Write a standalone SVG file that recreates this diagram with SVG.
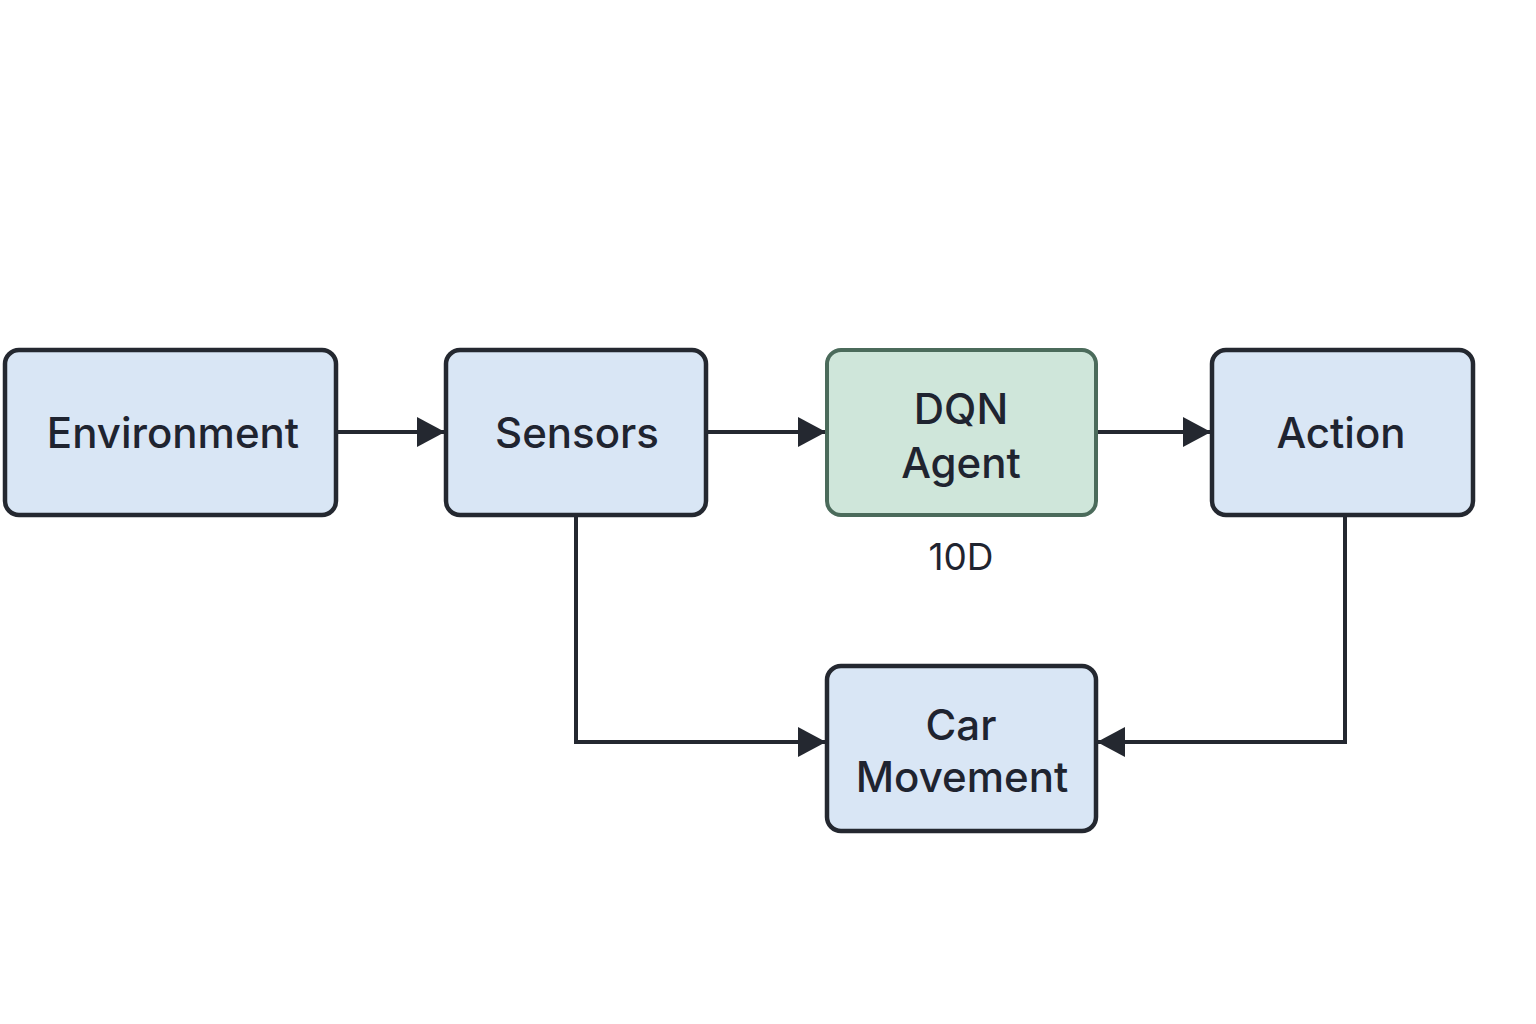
<svg xmlns="http://www.w3.org/2000/svg" width="1536" height="1024" viewBox="0 0 1536 1024">
<defs>
<marker id="arr" markerWidth="28" markerHeight="30" refX="28" refY="15" orient="auto" markerUnits="userSpaceOnUse">
<path d="M0,0 L28,15 L0,30 Z" fill="#242830"/>
</marker>
<style>
.box{fill:#d9e6f5;stroke:#242830;stroke-width:4.5}
.green{fill:#cfe6da;stroke:#4b6b5b;stroke-width:4}
.lbl{font-family:Inter,"Noto Sans","Liberation Sans",sans-serif;font-size:42px;font-weight:500;fill:#1f2430;text-anchor:middle}
.sub{font-family:Inter,"Noto Sans","Liberation Sans",sans-serif;font-size:37px;font-weight:400;fill:#1f2430;text-anchor:middle}
.con{fill:none;stroke:#242830;stroke-width:4;marker-end:url(#arr)}
</style>
</defs>
<rect width="1536" height="1024" fill="#ffffff"/>
<g id="connectors">
<path class="con" d="M336,432 H445"/>
<path class="con" d="M706,432 H826"/>
<path class="con" d="M1096,432 H1211"/>
<path class="con" d="M576,515 V742 H826"/>
<path class="con" d="M1345,515 V742 H1097"/>
</g>
<g id="environment">
<rect class="box" x="5" y="350" width="331" height="165" rx="14"/>
<text class="lbl" x="173" y="448">Environment</text>
</g>
<g id="sensors">
<rect class="box" x="446" y="350" width="260" height="165" rx="14"/>
<text class="lbl" x="577" y="448">Sensors</text>
</g>
<g id="dqn-agent">
<rect class="green" x="827" y="350" width="269" height="165" rx="14"/>
<text class="lbl" x="961" y="424">DQN</text>
<text class="lbl" x="961" y="478">Agent</text>
<text class="sub" x="961" y="570">10D</text>
</g>
<g id="action">
<rect class="box" x="1212" y="350" width="261" height="165" rx="14"/>
<text class="lbl" x="1341" y="448">Action</text>
</g>
<g id="car-movement">
<rect class="box" x="827" y="666" width="269" height="165" rx="14"/>
<text class="lbl" x="961" y="740">Car</text>
<text class="lbl" x="962" y="792">Movement</text>
</g>
</svg>
